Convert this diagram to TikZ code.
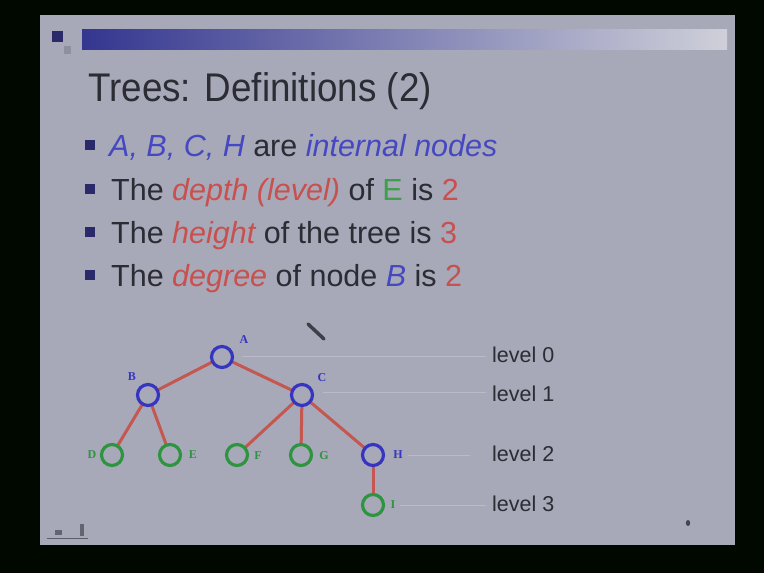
\documentclass[tikz,border=0pt]{standalone}
\usepackage{fontspec}
\setmainfont{Liberation Sans}
\newfontfamily\labserif{Liberation Serif}
\definecolor{slidebg}{HTML}{A7A9B9}
\definecolor{txtdark}{HTML}{2C2C34}
\definecolor{bluetxt}{HTML}{4548C0}
\definecolor{redtxt}{HTML}{C8504E}
\definecolor{greentxt}{HTML}{3E9E4A}
\definecolor{edgered}{HTML}{C4574F}
\definecolor{nodeblue}{HTML}{3535C0}
\definecolor{nodegreen}{HTML}{2E9440}
\definecolor{levline}{HTML}{B9BCC8}
\definecolor{bulletc}{HTML}{2A2A6A}
\tikzset{
  inner/.style={circle, draw=nodeblue, line width=3.2pt, minimum size=21pt, inner sep=0pt, fill=slidebg},
  leaf/.style={circle, draw=nodegreen, line width=3.2pt, minimum size=21pt, inner sep=0pt, fill=slidebg},
  edge/.style={draw=edgered, line width=3pt},
  lvline/.style={draw=levline, line width=0.9pt},
  lab/.style={font=\labserif\bfseries\fontsize{12}{12}\selectfont, inner sep=1pt},
  lvtext/.style={font=\fontsize{21.5}{21.5}\selectfont, text=txtdark, anchor=west, inner sep=0pt},
  bul/.style={fill=bulletc},
  btext/.style={font=\fontsize{30.5}{30.5}\selectfont, text=txtdark, anchor=base west, inner sep=0pt}
}
\begin{document}
\begin{tikzpicture}[x=1pt,y=-1pt]
\useasboundingbox (0,0) rectangle (764,573);
\fill[black!92!green!40!black] (0,0) rectangle (764,573);
\fill[slidebg] (40,15) rectangle (735,545);
% header bar
\shade[left color=bluetxt!75!black, middle color=slidebg!85!black, right color=slidebg!55!white] (82,29) rectangle (727,49);
\fill[bulletc] (52,31) rectangle (63,42);
\fill[slidebg!85!black] (64,46) rectangle (71,54);
% title
\node[anchor=base west, inner sep=0pt, text=txtdark, font=\fontsize{40}{40}\selectfont] (title) at (88,101) {\scalebox{0.92}[1]{Trees: Definitions (2)}};
% bullets
\fill[bul] (85,140) rectangle (95,150);
\node[btext] (b1) at (109,156) {\textcolor{bluetxt}{\itshape A, B, C, H} are \textcolor{bluetxt}{\itshape internal nodes}};
\fill[bul] (85,184) rectangle (95,194);
\node[btext] (b2) at (111,200) {The \textcolor{redtxt}{\itshape depth (level)} of \textcolor{greentxt}{E} is \textcolor{redtxt}{2}};
\fill[bul] (85,227) rectangle (95,237);
\node[btext] (b3) at (111,243) {The \textcolor{redtxt}{\itshape height} of the tree is \textcolor{redtxt}{3}};
\fill[bul] (85,270) rectangle (95,280);
\node[btext] (b4) at (111,286) {The \textcolor{redtxt}{\itshape degree} of node \textcolor{bluetxt}{\itshape B} is \textcolor{redtxt}{2}};
% level lines and labels
\node[lvtext] (l0) at (492,355) {level 0};
\node[lvtext] (l1) at (492,394) {level 1};
\node[lvtext] (l2) at (492,454) {level 2};
\node[lvtext] (l3) at (492,504) {level 3};
\coordinate (s0) at (242,356);
\coordinate (s1) at (323,392);
\coordinate (s2) at (408,455);
\coordinate (e2) at (470,455);
\coordinate (s3) at (400,505);
\draw[lvline] (s0) -- ([xshift=-6pt]s0 -| l0.west);
\draw[lvline] (s1) -- ([xshift=-6pt]s1 -| l1.west);
\draw[lvline] (s2) -- (e2);
\draw[lvline] (s3) -- ([xshift=-6pt]s3 -| l3.west);
% edges (drawn first, between node centres)
\coordinate (cA) at (222,357);
\coordinate (cB) at (148,395);
\coordinate (cC) at (302,395);
\coordinate (cD) at (112,455);
\coordinate (cE) at (170,455);
\coordinate (cF) at (237,455);
\coordinate (cG) at (301,455);
\coordinate (cH) at (373,455);
\coordinate (cI) at (373,505);
\draw[edge] (cA) -- (cB);
\draw[edge] (cA) -- (cC);
\draw[edge] (cB) -- (cD);
\draw[edge] (cB) -- (cE);
\draw[edge] (cC) -- (cF);
\draw[edge] (cC) -- (cG);
\draw[edge] (cC) -- (cH);
\draw[edge] (cH) -- (cI);
% tree nodes
\node[inner] (A) at (cA) {};
\node[inner] (B) at (cB) {};
\node[inner] (C) at (cC) {};
\node[leaf] (D) at (cD) {};
\node[leaf] (E) at (cE) {};
\node[leaf] (F) at (cF) {};
\node[leaf] (G) at (cG) {};
\node[inner] (H) at (cH) {};
\node[leaf] (I) at (cI) {};
% labels
\node[lab, text=nodeblue] (lA) at (244,340) {A};
\node[lab, text=nodeblue] (lB) at (132,377) {B};
\node[lab, text=nodeblue] (lC) at (322,378) {C};
\node[lab, text=nodegreen] (lD) at (92,455) {D};
\node[lab, text=nodegreen] (lE) at (193,455) {E};
\node[lab, text=nodegreen] (lF) at (258,456) {F};
\node[lab, text=nodegreen] (lG) at (324,456) {G};
\node[lab, text=nodeblue] (lH) at (398,455) {H};
\node[lab, text=nodegreen] (lI) at (393,505) {I};
% pointer stroke
\draw[line width=3.5pt, draw=txtdark!85!slidebg, line cap=round] (308,324) -- (324,339);
% footer marks
\draw[line width=1pt, draw=txtdark!60!slidebg] (47,538) -- (88,538);
\fill[txtdark!55!slidebg] (55,530) rectangle (62,535);
\fill[txtdark!55!slidebg] (80,524) rectangle (84,536);
\fill[txtdark!80!slidebg] (688,523) ellipse (2.2pt and 3pt);
\end{tikzpicture}
\end{document}
